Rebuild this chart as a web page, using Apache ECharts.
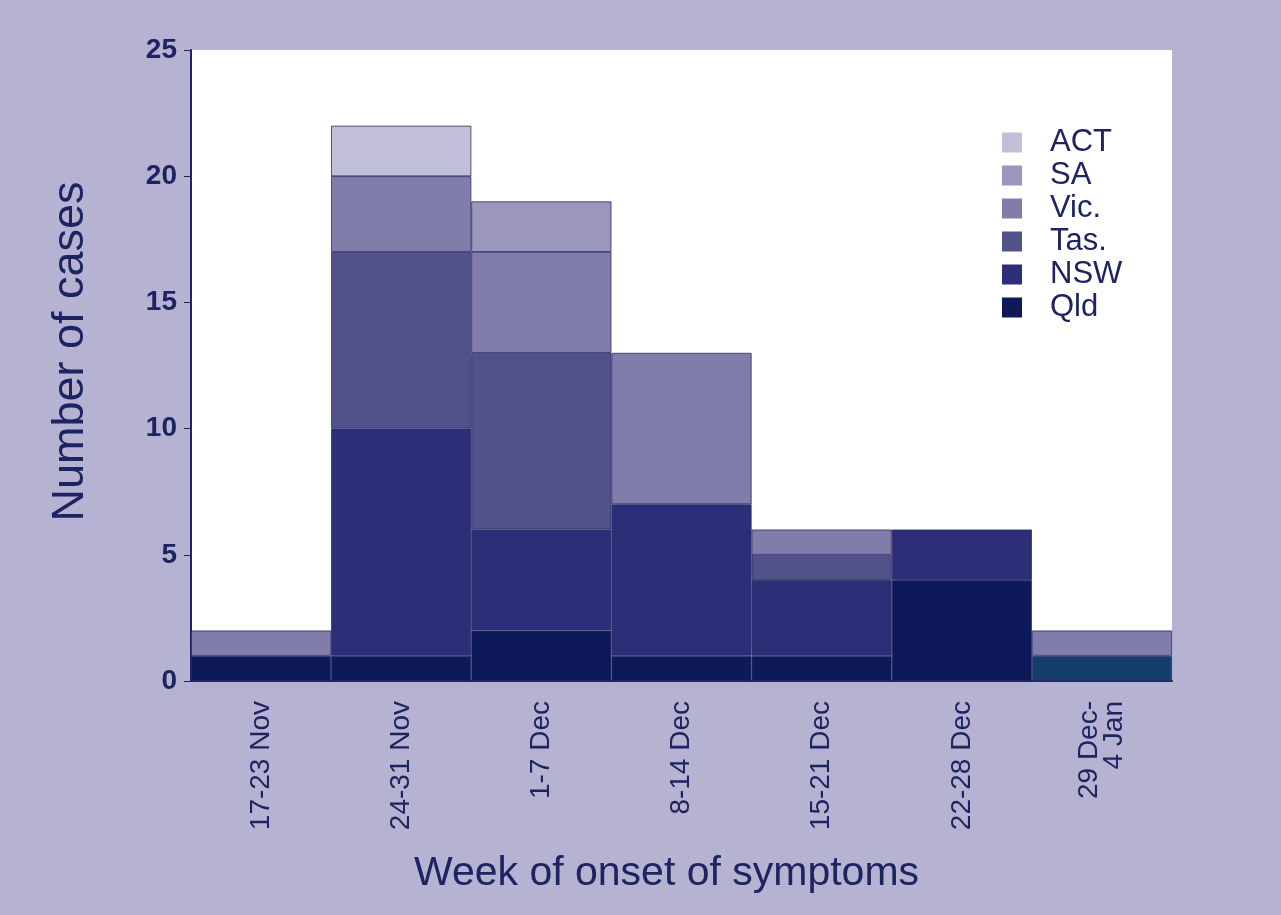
<!DOCTYPE html>
<html>
<head>
<meta charset="utf-8">
<script src="https://cdn.jsdelivr.net/npm/echarts@6/dist/echarts.min.js"></script>
<style>
html, body { margin: 0; padding: 0; background: #b5b3d1; }
#chart { width: 1281px; height: 915px; }
</style>
</head>
<body>
<div id="chart"></div>
<script>
var weeks = ['17-23 Nov', '24-31 Nov', '1-7 Dec', '8-14 Dec', '15-21 Dec', '22-28 Dec', '29 Dec-\n4 Jan'];
var qld = [1, 1, 2, 1, 1, 4, 1];
var nsw = [0, 9, 4, 6, 3, 2, 0];
var tas = [0, 7, 7, 0, 1, 0, 0];
var vic = [1, 3, 4, 6, 1, 0, 1];
var sa = [0, 0, 2, 0, 0, 0, 0];
var act = [0, 2, 0, 0, 0, 0, 0];
var yTicks = [0, 5, 10, 15, 20, 25];

var textColor = '#1d2462';
var font = 'Liberation Sans, Arial, sans-serif';

function mk(name, arr, color) {
    return {
        name: name,
        type: 'bar',
        stack: 'cases',
        barCategoryGap: 0,
        itemStyle: { color: color, borderColor: '#2b2d66', borderWidth: 0.8 },
        data: arr.map(function (v, i) {
            if (v === 0) return '-';
            // last week's Qld block is a teal navy in the original
            if (name === 'Qld' && i === 6) return { value: v, itemStyle: { color: '#163e6c' } };
            return v;
        })
    };
}

var chart = echarts.init(document.getElementById('chart'));
option = {
    backgroundColor: '#b5b3d1',
    textStyle: { fontFamily: font },
    grid: {
        left: 191, right: 109, top: 50, bottom: 234,
        show: true, backgroundColor: '#ffffff', borderWidth: 0
    },
    legend: {
        orient: 'vertical',
        left: 997, top: 122,
        itemWidth: 20, itemHeight: 20, itemGap: 2,
        icon: 'rect',
        itemStyle: { borderWidth: 0 },
        textStyle: { fontSize: 31, lineHeight: 31, color: textColor, fontFamily: font, padding: [0, 0, 0, 23] },
        data: ['ACT', 'SA', 'Vic.', 'Tas.', 'NSW', 'Qld']
    },
    xAxis: {
        type: 'category',
        data: weeks,
        name: 'Week of onset of symptoms',
        nameLocation: 'middle',
        nameGap: 172,
        nameTextStyle: { fontSize: 41, color: textColor, fontFamily: font, padding: [0, 30, 0, 0] },
        axisLine: { lineStyle: { color: '#1d2462', width: 2 } },
        axisTick: { alignWithLabel: false, length: 7, lineStyle: { color: '#1d2462' } },
        axisLabel: { rotate: 90, fontSize: 28, color: textColor, margin: 20, lineHeight: 25 }
    },
    yAxis: {
        type: 'value',
        min: 0, max: 25, interval: 5,
        name: 'Number of cases',
        nameLocation: 'middle',
        nameGap: 98,
        nameTextStyle: { fontSize: 45, color: textColor, fontFamily: font, padding: [0, 0, 0, 28] },
        splitLine: { show: false },
        axisLine: { show: true, lineStyle: { color: '#1d2462', width: 2 } },
        axisTick: { show: true, length: 7, lineStyle: { color: '#1d2462' } },
        axisLabel: {
            fontSize: 28, fontWeight: 'bold', color: textColor, margin: 14,
            formatter: function (v) { return yTicks.indexOf(v) >= 0 ? String(v) : ''; }
        }
    },
    series: [
        mk('Qld', qld, '#0d1959'),
        mk('NSW', nsw, '#2c2f78'),
        mk('Tas.', tas, '#52528a'),
        mk('Vic.', vic, '#817daa'),
        mk('SA', sa, '#9a96bc'),
        mk('ACT', act, '#c2bfd8')
    ]
};
chart.setOption(option);
</script>
</body>
</html>
